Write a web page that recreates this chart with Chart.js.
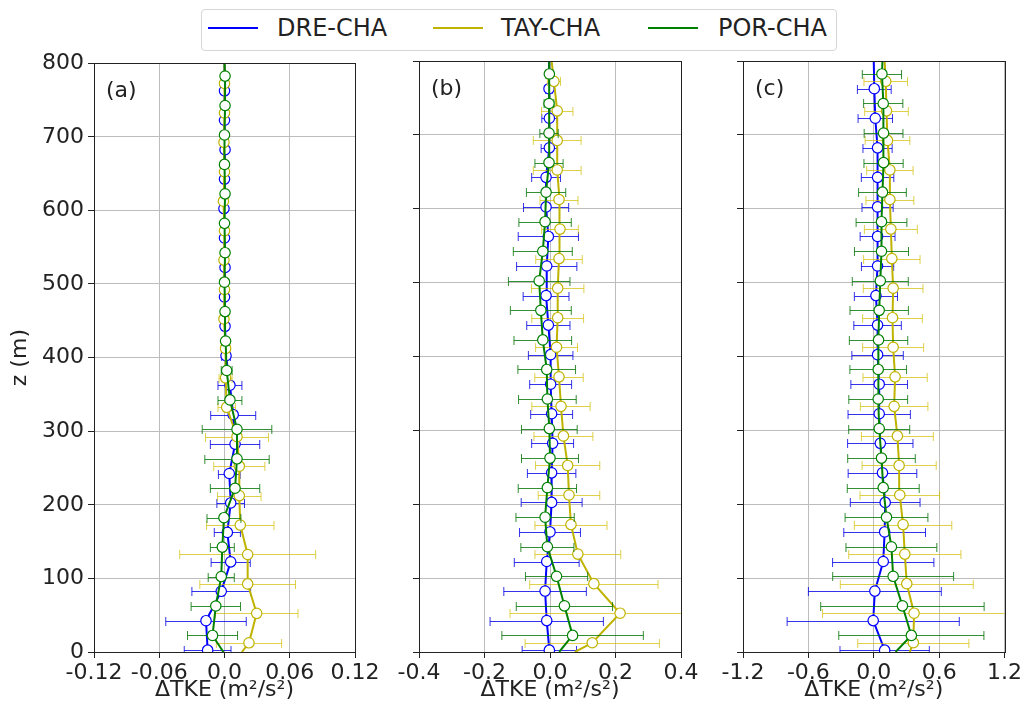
<!DOCTYPE html>
<html>
<head>
<meta charset="utf-8">
<script src="https://cdn.jsdelivr.net/npm/chart.js@4.4.0/dist/chart.umd.min.js"></script>
<style>
  body { margin: 0; background: #fff; width: 1024px; height: 717px; overflow: hidden; position: relative; font-family: "DejaVu Sans", sans-serif; }
  canvas { position: absolute; }
  #legend { position: absolute; left: 201px; top: 9px; width: 634px; height: 40px; border: 1px solid #d5d5d5; border-radius: 4px; background: #fff; z-index: 5; }
  .sw { position: absolute; top: 17px; height: 2px; width: 50px; }
  .lb { position: absolute; top: 1.5px; font-size: 24px; line-height: 32px; color: #222; white-space: nowrap; }
</style>
</head>
<body>
<canvas id="panelA" width="385" height="671" style="left:0px;top:46px;width:385px;height:671px"></canvas>
<canvas id="panelB" width="320" height="671" style="left:385px;top:46px;width:320px;height:671px"></canvas>
<canvas id="panelC" width="319" height="671" style="left:705px;top:46px;width:319px;height:671px"></canvas>
<div id="legend">
  <div class="sw" style="left:6px;background:#0000ff"></div><div class="lb" style="left:75px">DRE-CHA</div>
  <div class="sw" style="left:231px;background:#bfb300"></div><div class="lb" style="left:299px">TAY-CHA</div>
  <div class="sw" style="left:446px;background:#008000"></div><div class="lb" style="left:516px">POR-CHA</div>
</div>
<script>
// heights (m) where each series has a marker
const zDre = [2.5, 42.5, 82.5, 122.5, 162.5, 202.5, 242.5, 282.5, 322.5, 362.5, 402.5, 442.5, 482.5, 522.5, 562.5, 602.5, 642.5, 682.5, 722.5, 762.5];
const zTay = [12.5, 52.5, 92.5, 132.5, 172.5, 212.5, 252.5, 292.5, 332.5, 372.5, 412.5, 452.5, 492.5, 532.5, 572.5, 612.5, 652.5, 692.5, 732.5, 772.5];
const zPor = [22.5, 62.5, 102.5, 142.5, 182.5, 222.5, 262.5, 302.5, 342.5, 382.5, 422.5, 462.5, 502.5, 542.5, 582.5, 622.5, 662.5, 702.5, 742.5, 782.5];

// (a)
const dreA = [-0.0155, -0.017, -0.003, 0.0057, 0.0026, 0.0057, 0.0044, 0.0097, 0.008, 0.005, 0.0014, 0.0005, 0.0, 0.0005, 0.0, -0.0005, 0.0, 0.0005, 0.0, 0.0];
const dreErrA = [0.0215, 0.037, 0.027, 0.018, 0.012, 0.0127, 0.01, 0.0227, 0.0207, 0.011, 0.004, 0.002, 0.002, 0.002, 0.002, 0.002, 0.002, 0.002, 0.002, 0.002];
const tayA = [0.0225, 0.0296, 0.0213, 0.0213, 0.0145, 0.0136, 0.0136, 0.0115, 0.002, 0.001, 0.001, -0.0005, 0.0, -0.0005, 0.0, -0.001, 0.0, -0.0005, 0.0, 0.0];
const tayErrA = [0.03, 0.038, 0.044, 0.0625, 0.031, 0.02, 0.0235, 0.029, 0.008, 0.006, 0.004, 0.002, 0.002, 0.002, 0.002, 0.002, 0.002, 0.002, 0.002, 0.002];
const porA = [-0.011, -0.008, -0.003, -0.002, -0.0005, 0.0097, 0.0115, 0.0115, 0.005, 0.002, 0.001, 0.0005, 0.0, 0.0005, 0.0, 0.0005, 0.0, 0.0, 0.0005, 0.0005];
const porErrA = [0.023, 0.0227, 0.012, 0.011, 0.0156, 0.0227, 0.0296, 0.032, 0.011, 0.005, 0.003, 0.002, 0.002, 0.002, 0.002, 0.002, 0.002, 0.002, 0.002, 0.002];

// (b)
const dreB = [-0.002, -0.01, -0.015, -0.01, 0.0, 0.005, 0.005, 0.008, 0.005, 0.002, 0.002, -0.005, -0.012, -0.01, -0.005, -0.012, -0.012, -0.002, -0.002, -0.003];
const dreErrB = [0.083, 0.173, 0.126, 0.099, 0.093, 0.093, 0.074, 0.064, 0.064, 0.064, 0.068, 0.066, 0.07, 0.092, 0.092, 0.069, 0.044, 0.025, 0.023, 0.01];
const tayB = [0.129, 0.214, 0.134, 0.085, 0.064, 0.058, 0.054, 0.041, 0.0336, 0.0275, 0.02, 0.0235, 0.0235, 0.0275, 0.0305, 0.0275, 0.022, 0.022, 0.022, 0.012];
const tayErrB = [0.205, 0.336, 0.196, 0.131, 0.11, 0.094, 0.098, 0.09, 0.089, 0.074, 0.064, 0.079, 0.08, 0.071, 0.056, 0.058, 0.073, 0.073, 0.048, 0.02];
const porB = [0.069, 0.044, 0.02, -0.008, -0.015, -0.008, 0.0, -0.002, -0.008, -0.01, -0.022, -0.028, -0.033, -0.022, -0.015, -0.012, -0.003, -0.003, -0.003, -0.002];
const porErrB = [0.216, 0.147, 0.095, 0.081, 0.089, 0.089, 0.087, 0.085, 0.088, 0.088, 0.088, 0.093, 0.094, 0.09, 0.08, 0.06, 0.043, 0.028, 0.015, 0.01];

// (c)
const dreC = [0.1, -0.005, 0.01, 0.087, 0.1, 0.105, 0.08, 0.06, 0.05, 0.05, 0.035, 0.035, 0.02, 0.035, 0.035, 0.035, 0.035, 0.035, 0.014, 0.005];
const dreErrC = [0.41, 0.79, 0.61, 0.465, 0.375, 0.32, 0.315, 0.3, 0.286, 0.26, 0.236, 0.218, 0.198, 0.148, 0.16, 0.143, 0.149, 0.134, 0.158, 0.155];
const tayC = [0.363, 0.37, 0.303, 0.285, 0.269, 0.239, 0.233, 0.217, 0.187, 0.196, 0.178, 0.172, 0.178, 0.166, 0.157, 0.148, 0.148, 0.126, 0.117, 0.11];
const tayErrC = [0.51, 0.84, 0.61, 0.515, 0.447, 0.365, 0.34, 0.33, 0.31, 0.295, 0.28, 0.274, 0.274, 0.259, 0.243, 0.22, 0.213, 0.205, 0.2, 0.2];
const porC = [0.345, 0.263, 0.178, 0.162, 0.117, 0.087, 0.071, 0.05, 0.041, 0.041, 0.044, 0.05, 0.06, 0.071, 0.071, 0.08, 0.09, 0.09, 0.087, 0.075];
const porErrC = [0.666, 0.75, 0.555, 0.417, 0.38, 0.33, 0.31, 0.28, 0.27, 0.26, 0.268, 0.268, 0.257, 0.248, 0.233, 0.219, 0.18, 0.178, 0.18, 0.18];

// line values at z = 0 and z = 800 [bottom, top]
const dreEndsA = [-0.016, 0.0], tayEndsA = [0.016, 0.0], porEndsA = [-0.001, 0.0];
const dreEndsB = [-0.002, -0.003], tayEndsB = [0.076, 0.005], porEndsB = [0.028, -0.002];
const dreEndsC = [0.11, 0.0], tayEndsC = [0.33, 0.1], porEndsC = [0.2, 0.08];

const yTicks = [0, 100, 200, 300, 400, 500, 600, 700, 800];
const xTicksA = [-0.12, -0.06, 0, 0.06, 0.12];
const xLabelsA = ['-0.12', '-0.06', '0.0', '0.06', '0.12'];
const xTicksB = [-0.4, -0.2, 0, 0.2, 0.4];
const xLabelsB = ['-0.4', '-0.2', '0.0', '0.2', '0.4'];
const xTicksC = [-1.2, -0.6, 0, 0.6, 1.2];
const xLabelsC = ['-1.2', '-0.6', '0.0', '0.6', '1.2'];
const seriesNames = ['DRE-CHA', 'TAY-CHA', 'POR-CHA'];
const panelNames = ['(a)', '(b)', '(c)'];

const FONT = '"DejaVu Sans", sans-serif';
const colors = { dre: '#0000ff', tay: '#bfb300', por: '#008000' };
const errColors = { dre: 'rgba(0,0,230,0.8)', tay: 'rgba(210,190,0,0.7)', por: 'rgba(0,115,0,0.8)' };

// horizontal error bars with caps, drawn under each series' own line
const errorBars = {
  id: 'errorBars',
  beforeDatasetDraw(chart, args) {
    const ds = chart.data.datasets[args.index];
    if (!ds.errors) return;
    const { ctx, chartArea, scales: { x, y } } = chart;
    ctx.save();
    ctx.beginPath();
    ctx.rect(chartArea.left, chartArea.top, chartArea.width, chartArea.height);
    ctx.clip();
    ctx.strokeStyle = ds.errColor;
    ctx.lineWidth = 1;
    ds.data.forEach((p, i) => {
      const e = ds.errors[i];
      if (e == null) return;
      const yy = Math.round(y.getPixelForValue(p.y)) + 0.5;
      const x1 = x.getPixelForValue(p.x - e);
      const x2 = x.getPixelForValue(p.x + e);
      ctx.beginPath();
      ctx.moveTo(x1, yy); ctx.lineTo(x2, yy);
      ctx.moveTo(x1, yy - 4.5); ctx.lineTo(x1, yy + 4.5);
      ctx.moveTo(x2, yy - 4.5); ctx.lineTo(x2, yy + 4.5);
      ctx.stroke();
    });
    ctx.restore();
  }
};

const frame = {
  id: 'frame',
  afterDraw(chart, args, opts) {
    const { ctx, chartArea: a } = chart;
    ctx.save();
    ctx.strokeStyle = '#222';
    ctx.lineWidth = 1;
    ctx.strokeRect(Math.round(a.left) + 0.5, Math.round(a.top) + 0.5, Math.round(a.width), Math.round(a.height));
    ctx.font = '22px ' + FONT;
    ctx.fillStyle = '#222';
    ctx.textBaseline = 'middle';
    ctx.fillText(opts.label, a.left + 12, a.top + 28);
    ctx.restore();
  }
};

function series(name, z, vals, errs, ends, key, order) {
  const data = [{ x: ends[0], y: 0 }].concat(vals.map((v, i) => ({ x: v, y: z[i] })), [{ x: ends[1], y: 800 }]);
  const last = data.length - 1;
  return {
    label: name,
    data: data,
    errors: [null].concat(errs, [null]),
    errColor: errColors[key],
    showLine: true,
    borderColor: colors[key],
    borderWidth: 2,
    pointRadius: data.map((p, i) => (i === 0 || i === last) ? 0 : 5.2),
    pointBorderWidth: 1.2,
    pointBackgroundColor: '#fff',
    pointBorderColor: colors[key],
    order: order
  };
}

function buildPanel(id, p) {
  const ctx = document.getElementById(id).getContext('2d');
  new Chart(ctx, {
    type: 'scatter',
    data: {
      datasets: [
        series(seriesNames[0], zDre, p.dre, p.dreErr, p.dreEnds, 'dre', 2),
        series(seriesNames[1], zTay, p.tay, p.tayErr, p.tayEnds, 'tay', 1),
        series(seriesNames[2], zPor, p.por, p.porErr, p.porEnds, 'por', 0)
      ]
    },
    options: {
      responsive: false,
      animation: false,
      layout: { padding: { left: 0, right: p.padRight, top: 15, bottom: 0 } },
      plugins: {
        legend: { display: false },
        tooltip: { enabled: false },
        frame: { label: p.label }
      },
      scales: {
        x: {
          type: 'linear',
          min: p.ticks[0],
          max: p.ticks[p.ticks.length - 1],
          afterBuildTicks: s => { s.ticks = p.ticks.map(v => ({ value: v })); },
          afterFit: s => { s.height = 65; },
          grid: { color: '#bdbdbd', lineWidth: 1, tickColor: '#222', tickLength: 6 },
          border: { display: false },
          ticks: {
            autoSkip: false, maxRotation: 0, padding: 2,
            color: '#222', font: { family: FONT, size: 22 },
            callback: (v, i) => p.labels[i]
          },
          title: {
            display: true, text: 'ΔTKE (m²/s²)', color: '#222',
            font: { family: FONT, size: 22 }, padding: { top: 0, bottom: 14 }
          }
        },
        y: {
          type: 'linear',
          min: 0,
          max: 800,
          afterBuildTicks: s => { s.ticks = yTicks.map(v => ({ value: v })); },
          afterFit: s => { s.width = p.yWidth; },
          grid: { color: '#bdbdbd', lineWidth: 1, tickColor: '#222', tickLength: 6 },
          border: { display: false },
          ticks: {
            display: p.showY, padding: 4,
            color: '#222', font: { family: FONT, size: 22 }
          },
          title: {
            display: p.showY, text: 'z (m)', color: '#222',
            font: { family: FONT, size: 22 }, padding: { top: 7, bottom: 0 }
          }
        }
      }
    },
    plugins: [errorBars, frame]
  });
}

buildPanel('panelA', {
  dre: dreA, dreErr: dreErrA, dreEnds: dreEndsA,
  tay: tayA, tayErr: tayErrA, tayEnds: tayEndsA,
  por: porA, porErr: porErrA, porEnds: porEndsA,
  ticks: xTicksA, labels: xLabelsA, label: panelNames[0],
  yWidth: 94, padRight: 30, showY: true
});
buildPanel('panelB', {
  dre: dreB, dreErr: dreErrB, dreEnds: dreEndsB,
  tay: tayB, tayErr: tayErrB, tayEnds: tayEndsB,
  por: porB, porErr: porErrB, porEnds: porEndsB,
  ticks: xTicksB, labels: xLabelsB, label: panelNames[1],
  yWidth: 34, padRight: 24, showY: false
});
buildPanel('panelC', {
  dre: dreC, dreErr: dreErrC, dreEnds: dreEndsC,
  tay: tayC, tayErr: tayErrC, tayEnds: tayEndsC,
  por: porC, porErr: porErrC, porEnds: porEndsC,
  ticks: xTicksC, labels: xLabelsC, label: panelNames[2],
  yWidth: 38, padRight: 18, showY: false
});
</script>
</body>
</html>
